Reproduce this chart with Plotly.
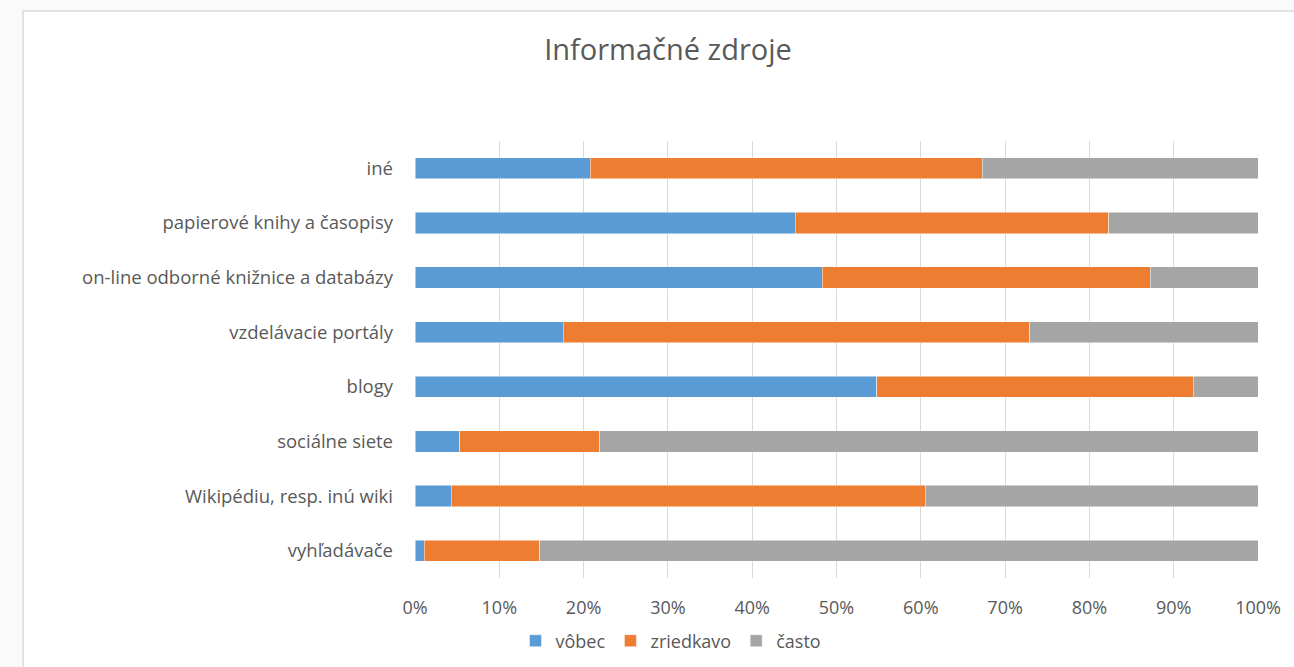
import plotly.graph_objects as go

# Categories listed bottom-to-top (Plotly places the first category at the bottom)
categories = [
    "vyhľadávače",
    "Wikipédiu, resp. inú wiki",
    "sociálne siete",
    "blogy",
    "vzdelávacie portály",
    "on-line odborné knižnice a databázy",
    "papierové knihy a časopisy",
    "iné",
]

# Share of answers in percent
vobec = [1.1, 4.3, 5.3, 54.8, 17.6, 48.3, 45.1, 20.8]
zriedkavo = [13.7, 56.2, 16.6, 37.5, 55.3, 38.9, 37.2, 46.5]
casto = [85.2, 39.5, 78.1, 7.7, 27.1, 12.8, 17.7, 32.7]

x_ticks = list(range(0, 101, 10))
x_ticklabels = [f"{v}%" for v in x_ticks]

series = [
    ("vôbec", vobec, "#5B9BD5"),
    ("zriedkavo", zriedkavo, "#ED7D31"),
    ("často", casto, "#A5A5A5"),
]

W, H = 1294, 667
L, R, T, B = 415, 36, 141, 89
pw, ph = W - L - R, H - T - B

fig = go.Figure()
for name, vals, color in series:
    fig.add_trace(go.Bar(
        y=categories, x=vals, name=name, orientation="h",
        marker=dict(color=color, line=dict(color="rgba(255,255,255,0.6)", width=0.8)),
        width=0.39,
    ))

TEXT = "#595959"
FONT = "Open Sans"

# chart-area frame (light gray border on white)
fig.add_shape(
    type="rect", xref="paper", yref="paper", layer="below",
    x0=(23 - L) / pw, x1=(W + 20 - L) / pw,
    y0=(H - B - (H + 20)) / ph, y1=(H - B - 11) / ph,
    fillcolor="white", line=dict(color="#D9D9D9", width=1.5),
)

fig.update_layout(
    width=W, height=H,
    margin=dict(l=L, r=R, t=T, b=B, autoexpand=False),
    paper_bgcolor="#FAFAFA",
    plot_bgcolor="white",
    barmode="stack",
    bargap=0.61,
    title=dict(
        text="Informačné zdroje", xref="container", x=668 / W, xanchor="center",
        yref="container", y=1 - 50 / H, yanchor="middle",
        font=dict(family=FONT, size=29, color=TEXT),
    ),
    font=dict(family=FONT, size=18, color=TEXT),
    xaxis=dict(
        range=[0, 100], tickvals=x_ticks, ticktext=x_ticklabels,
        showgrid=True, gridcolor="#D9D9D9", gridwidth=1, zeroline=False,
        showline=False, ticks="", ticklabelstandoff=17,
        tickfont=dict(family=FONT, size=18, color=TEXT), fixedrange=True,
    ),
    yaxis=dict(
        categoryorder="array", categoryarray=categories,
        showgrid=False, zeroline=False, showline=False, ticks="",
        ticklabelstandoff=21,
        tickfont=dict(family=FONT, size=18.5, color=TEXT),
    ),
    legend=dict(
        orientation="h", traceorder="normal",
        xref="container", x=671 / W, xanchor="center",
        yref="container", y=1 - 641 / H, yanchor="middle",
        font=dict(family=FONT, size=18, color=TEXT),
        bgcolor="rgba(0,0,0,0)", itemwidth=30,
    ),
    showlegend=True,
)

fig.write_html("out.html")
